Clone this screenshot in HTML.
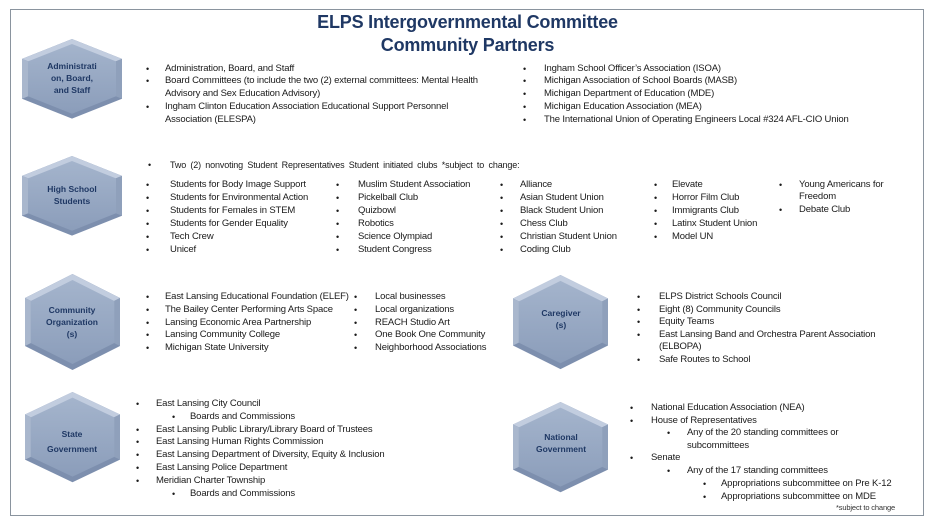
<!DOCTYPE html>
<html><head><meta charset="utf-8"><style>
body{margin:0;width:935px;height:526px;background:#fff;position:relative;overflow:hidden;font-family:"Liberation Sans",Arial,sans-serif;}
.frame{position:absolute;left:10px;top:9px;width:914px;height:507px;border:1px solid #8a949e;box-sizing:border-box;}
.t{position:absolute;font-size:9.5px;line-height:12px;color:#1a1a1a;white-space:nowrap;letter-spacing:-0.15px;}
.b{position:absolute;font-size:9px;line-height:12px;color:#1a1a1a;}
.title{position:absolute;left:0;width:935px;text-align:center;color:#1f3864;font-weight:bold;font-size:18px;line-height:22px;letter-spacing:-0.2px;}
.hl{position:absolute;text-align:center;color:#1f3864;font-weight:bold;font-size:8.5px;line-height:12px;}
svg{position:absolute;left:0;top:0;}
</style></head><body>
<div class="frame"></div>
<svg width="935" height="526">
<defs>
<linearGradient id="g" x1="0" y1="0" x2="0" y2="1"><stop offset="0" stop-color="#a4b4cc"/><stop offset="1" stop-color="#8b9dba"/></linearGradient>
<g id="hex">
<polygon points="50,0 100,24 100,72 50,96 0,72 0,24" fill="#7d8fae"/>
<polygon points="50,0 100,24 50,48 0,24" fill="#c2cddf"/>
<polygon points="0,24 50,48 0,72" fill="#a9b7cd"/>
<polygon points="100,24 100,72 50,48" fill="#8fa0bb"/>
<polygon points="50,6 94,27 94,69 50,90 6,69 6,27" fill="url(#g)"/>
</g>
</defs>
<use href="#hex" transform="translate(22,39) scale(1,0.83)"/>
<use href="#hex" transform="translate(22,156) scale(1,0.83)"/>
<use href="#hex" transform="translate(25,274) scale(0.95,1)"/>
<use href="#hex" transform="translate(25,392) scale(0.95,0.94)"/>
<use href="#hex" transform="translate(513,275) scale(0.95,0.98)"/>
<use href="#hex" transform="translate(513,402) scale(0.95,0.94)"/>
</svg>
<div class="title" style="top:11px">ELPS Intergovernmental Committee</div>
<div class="title" style="top:34px">Community Partners</div>

<div class="hl" style="left:22px;width:100px;top:60px">Administrati<br>on, Board,<br>and Staff</div>
<div class="hl" style="left:22px;width:100px;top:183px">High School<br>Students</div>
<div class="hl" style="left:22px;width:100px;top:304px">Community<br>Organization<br>(s)</div>
<div class="hl" style="left:22px;width:100px;top:428px">State<br><span style="line-height:18px">Government</span></div>
<div class="hl" style="left:511px;width:100px;top:307px">Caregiver<br>(s)</div>
<div class="hl" style="left:511px;width:100px;top:431px">National<br>Government</div>

<!-- Admin -->
<div class="b" style="left:146px;top:63px">•</div><div class="t" style="left:165px;top:63px">Administration, Board, and Staff</div>
<div class="b" style="left:146px;top:75px">•</div><div class="t" style="left:165px;top:75px">Board Committees (to include the two (2) external committees: Mental Health</div>
<div class="t" style="left:165px;top:88px">Advisory and Sex Education Advisory)</div>
<div class="b" style="left:146px;top:101px">•</div><div class="t" style="left:165px;top:101px">Ingham Clinton Education Association Educational Support Personnel</div>
<div class="t" style="left:165px;top:114px">Association (ELESPA)</div>
<div class="b" style="left:523px;top:63px">•</div><div class="t" style="left:544px;top:63px">Ingham School Officer’s Association (ISOA)</div>
<div class="b" style="left:523px;top:75px">•</div><div class="t" style="left:544px;top:75px">Michigan Association of School Boards (MASB)</div>
<div class="b" style="left:523px;top:88px">•</div><div class="t" style="left:544px;top:88px">Michigan Department of Education (MDE)</div>
<div class="b" style="left:523px;top:101px">•</div><div class="t" style="left:544px;top:101px">Michigan Education Association (MEA)</div>
<div class="b" style="left:523px;top:114px">•</div><div class="t" style="left:544px;top:114px">The International Union of Operating Engineers Local #324 AFL-CIO Union</div>

<!-- High school -->
<div class="b" style="left:148px;top:159px">•</div><div class="t" style="left:170px;top:159px;font-size:9px;word-spacing:2px">Two (2) nonvoting Student Representatives Student initiated clubs *subject to change:</div>
<div class="b" style="left:146px;top:179px">•</div><div class="t" style="left:170px;top:179px">Students for Body Image Support</div>
<div class="b" style="left:146px;top:192px">•</div><div class="t" style="left:170px;top:192px">Students for Environmental Action</div>
<div class="b" style="left:146px;top:205px">•</div><div class="t" style="left:170px;top:205px">Students for Females in STEM</div>
<div class="b" style="left:146px;top:218px">•</div><div class="t" style="left:170px;top:218px">Students for Gender Equality</div>
<div class="b" style="left:146px;top:231px">•</div><div class="t" style="left:170px;top:231px">Tech Crew</div>
<div class="b" style="left:146px;top:244px">•</div><div class="t" style="left:170px;top:244px">Unicef</div>
<div class="b" style="left:336px;top:179px">•</div><div class="t" style="left:358px;top:179px">Muslim Student Association</div>
<div class="b" style="left:336px;top:192px">•</div><div class="t" style="left:358px;top:192px">Pickelball Club</div>
<div class="b" style="left:336px;top:205px">•</div><div class="t" style="left:358px;top:205px">Quizbowl</div>
<div class="b" style="left:336px;top:218px">•</div><div class="t" style="left:358px;top:218px">Robotics</div>
<div class="b" style="left:336px;top:231px">•</div><div class="t" style="left:358px;top:231px">Science Olympiad</div>
<div class="b" style="left:336px;top:244px">•</div><div class="t" style="left:358px;top:244px">Student Congress</div>
<div class="b" style="left:500px;top:179px">•</div><div class="t" style="left:520px;top:179px">Alliance</div>
<div class="b" style="left:500px;top:192px">•</div><div class="t" style="left:520px;top:192px">Asian Student Union</div>
<div class="b" style="left:500px;top:205px">•</div><div class="t" style="left:520px;top:205px">Black Student Union</div>
<div class="b" style="left:500px;top:218px">•</div><div class="t" style="left:520px;top:218px">Chess Club</div>
<div class="b" style="left:500px;top:231px">•</div><div class="t" style="left:520px;top:231px">Christian Student Union</div>
<div class="b" style="left:500px;top:244px">•</div><div class="t" style="left:520px;top:244px">Coding Club</div>
<div class="b" style="left:654px;top:179px">•</div><div class="t" style="left:672px;top:179px">Elevate</div>
<div class="b" style="left:654px;top:192px">•</div><div class="t" style="left:672px;top:192px">Horror Film Club</div>
<div class="b" style="left:654px;top:205px">•</div><div class="t" style="left:672px;top:205px">Immigrants Club</div>
<div class="b" style="left:654px;top:218px">•</div><div class="t" style="left:672px;top:218px">Latinx Student Union</div>
<div class="b" style="left:654px;top:231px">•</div><div class="t" style="left:672px;top:231px">Model UN</div>
<div class="b" style="left:779px;top:179px">•</div><div class="t" style="left:799px;top:179px">Young Americans for</div>
<div class="t" style="left:799px;top:191px">Freedom</div>
<div class="b" style="left:779px;top:204px">•</div><div class="t" style="left:799px;top:204px">Debate Club</div>

<!-- Community -->
<div class="b" style="left:146px;top:291px">•</div><div class="t" style="left:165px;top:291px">East Lansing Educational Foundation (ELEF)</div>
<div class="b" style="left:146px;top:304px">•</div><div class="t" style="left:165px;top:304px">The Bailey Center Performing Arts Space</div>
<div class="b" style="left:146px;top:317px">•</div><div class="t" style="left:165px;top:317px">Lansing Economic Area Partnership</div>
<div class="b" style="left:146px;top:329px">•</div><div class="t" style="left:165px;top:329px">Lansing Community College</div>
<div class="b" style="left:146px;top:342px">•</div><div class="t" style="left:165px;top:342px">Michigan State University</div>
<div class="b" style="left:354px;top:291px">•</div><div class="t" style="left:375px;top:291px">Local businesses</div>
<div class="b" style="left:354px;top:304px">•</div><div class="t" style="left:375px;top:304px">Local organizations</div>
<div class="b" style="left:354px;top:317px">•</div><div class="t" style="left:375px;top:317px">REACH Studio Art</div>
<div class="b" style="left:354px;top:329px">•</div><div class="t" style="left:375px;top:329px">One Book One Community</div>
<div class="b" style="left:354px;top:342px">•</div><div class="t" style="left:375px;top:342px">Neighborhood Associations</div>

<!-- Caregiver -->
<div class="b" style="left:637px;top:291px">•</div><div class="t" style="left:659px;top:291px">ELPS District Schools Council</div>
<div class="b" style="left:637px;top:304px">•</div><div class="t" style="left:659px;top:304px">Eight (8) Community Councils</div>
<div class="b" style="left:637px;top:316px">•</div><div class="t" style="left:659px;top:316px">Equity Teams</div>
<div class="b" style="left:637px;top:329px">•</div><div class="t" style="left:659px;top:329px">East Lansing Band and Orchestra Parent Association</div>
<div class="t" style="left:659px;top:341px">(ELBOPA)</div>
<div class="b" style="left:637px;top:354px">•</div><div class="t" style="left:659px;top:354px">Safe Routes to School</div>

<!-- State -->
<div class="b" style="left:136px;top:398px">•</div><div class="t" style="left:156px;top:398px">East Lansing City Council</div>
<div class="b" style="left:172px;top:411px">•</div><div class="t" style="left:190px;top:411px">Boards and Commissions</div>
<div class="b" style="left:136px;top:424px">•</div><div class="t" style="left:156px;top:424px">East Lansing Public Library/Library Board of Trustees</div>
<div class="b" style="left:136px;top:436px">•</div><div class="t" style="left:156px;top:436px">East Lansing Human Rights Commission</div>
<div class="b" style="left:136px;top:449px">•</div><div class="t" style="left:156px;top:449px">East Lansing Department of Diversity, Equity &amp; Inclusion</div>
<div class="b" style="left:136px;top:462px">•</div><div class="t" style="left:156px;top:462px">East Lansing Police Department</div>
<div class="b" style="left:136px;top:475px">•</div><div class="t" style="left:156px;top:475px">Meridian Charter Township</div>
<div class="b" style="left:172px;top:488px">•</div><div class="t" style="left:190px;top:488px">Boards and Commissions</div>

<!-- National -->
<div class="b" style="left:630px;top:402px">•</div><div class="t" style="left:651px;top:402px">National Education Association (NEA)</div>
<div class="b" style="left:630px;top:415px">•</div><div class="t" style="left:651px;top:415px">House of Representatives</div>
<div class="b" style="left:667px;top:427px">•</div><div class="t" style="left:687px;top:427px">Any of the 20 standing committees or</div>
<div class="t" style="left:687px;top:440px">subcommittees</div>
<div class="b" style="left:630px;top:452px">•</div><div class="t" style="left:651px;top:452px">Senate</div>
<div class="b" style="left:667px;top:465px">•</div><div class="t" style="left:687px;top:465px">Any of the 17 standing committees</div>
<div class="b" style="left:703px;top:478px">•</div><div class="t" style="left:721px;top:478px">Appropriations subcommittee on Pre K-12</div>
<div class="b" style="left:703px;top:491px">•</div><div class="t" style="left:721px;top:491px">Appropriations subcommittee on MDE</div>
<div class="t" style="left:836px;top:502px;font-size:7.5px;color:#333">*subject to change</div>
</body></html>
